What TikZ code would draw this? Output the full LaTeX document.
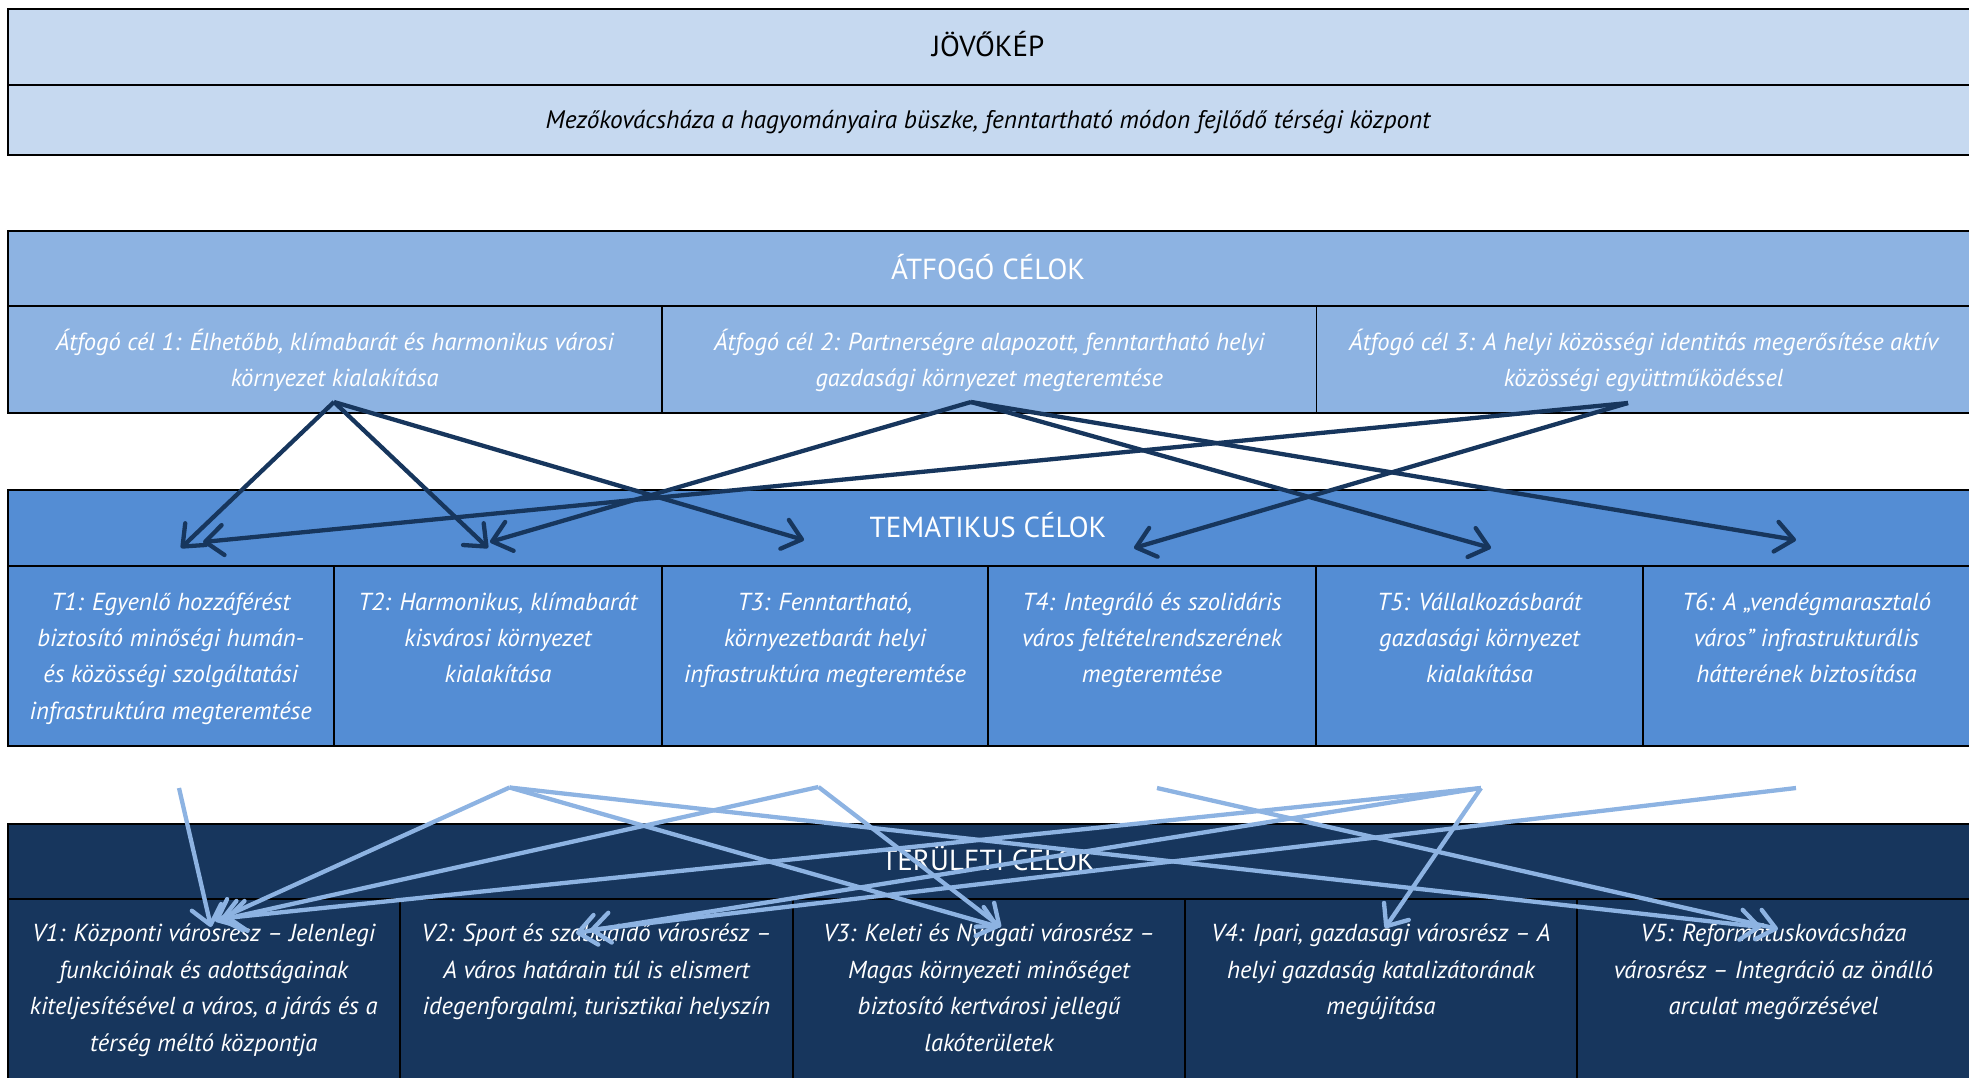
\documentclass[tikz,border=0pt]{standalone}
\usepackage{fontspec}
\setmainfont{PT Sans}
\usetikzlibrary{arrows.meta}
\definecolor{cJov}{HTML}{C6D9F0}
\definecolor{cAtf}{HTML}{8DB3E2}
\definecolor{cTem}{HTML}{548DD4}
\definecolor{cTer}{HTML}{17365D}
\definecolor{cDark}{HTML}{17365D}
\definecolor{cLight}{HTML}{8DB3E2}
\begin{document}
\begin{tikzpicture}[x=1pt,y=-1pt,
  frame/.style={draw=black,line width=2pt},
  divider/.style={draw=black,line width=1.5pt},
  headtext/.style={anchor=base,inner sep=0pt,font=\fontsize{29}{34}\selectfont},
  celltext/.style={anchor=north,inner sep=0pt,align=center,text=white,font=\fontsize{24.6}{36.4}\selectfont\itshape},
  darkarrow/.style={draw=cDark,line width=4.3pt,-{Straight Barb[length=18pt,width=30pt,round]}},
  lightarrow/.style={draw=cLight,line width=4.3pt,-{Straight Barb[length=18pt,width=30pt,round]}},
]
\clip (0,0) rectangle (1969,1077);
\useasboundingbox (0,0) rectangle (1969,1077);

% ---- Jovokep
\path[frame,fill=cJov] (7.5,9) rectangle (1980,155);
\draw[frame] (7.5,85) -- (1980,85);
\node[headtext] (jkTitle) at (988,56.5) {JÖVŐKÉP};
\node[anchor=base,inner sep=0pt,font=\fontsize{25.3}{30}\selectfont\itshape] (jkText) at (988,128.3)
  {Mezőkovácsháza a hagyományaira büszke, fenntartható módon fejlődő térségi központ};

% ---- Atfogo
\path[frame,fill=cAtf] (7.5,231) rectangle (1980,413);
\draw[frame] (7.5,306) -- (1980,306);
\draw[divider] (662,306) -- (662,413) (1316.5,306) -- (1316.5,413);
\node[headtext,text=white] (atTitle) at (988,279.3) {ÁTFOGÓ CÉLOK};
\node[celltext] (at1) at (334.75,324.5) {\strut Átfogó cél 1: Élhetőbb, klímabarát és harmonikus városi\\környezet kialakítása};
\node[celltext] (at2) at (989.25,324.5) {\strut Átfogó cél 2: Partnerségre alapozott, fenntartható helyi\\gazdasági környezet megteremtése};
\node[celltext] (at3) at (1643.75,324.5) {\strut Átfogó cél 3: A helyi közösségi identitás megerősítése aktív\\közösségi együttműködéssel};

% ---- Tematikus
\path[frame,fill=cTem] (7.5,490) rectangle (1980,746);
\draw[frame] (7.5,566) -- (1980,566);
\draw[divider] (334,566) -- (334,746) (662,566) -- (662,746) (988,566) -- (988,746)
  (1316,566) -- (1316,746) (1643,566) -- (1643,746);
\node[headtext,text=white] (tmTitle) at (988,537.3) {TEMATIKUS CÉLOK};
\node[celltext] (t1) at (170.75,584.5) {\strut T1: Egyenlő hozzáférést\\biztosító minőségi humán-\\és közösségi szolgáltatási\\infrastruktúra megteremtése};
\node[celltext] (t2) at (498,584.5) {\strut T2: Harmonikus, klímabarát\\kisvárosi környezet\\kialakítása};
\node[celltext] (t3) at (825,584.5) {\strut T3: Fenntartható,\\környezetbarát helyi\\infrastruktúra megteremtése};
\node[celltext] (t4) at (1152,584.5) {\strut T4: Integráló és szolidáris\\város feltételrendszerének\\megteremtése};
\node[celltext] (t5) at (1479.5,584.5) {\strut T5: Vállalkozásbarát\\gazdasági környezet\\kialakítása};
\node[celltext] (t6) at (1806.5,584.5) {\strut T6: A „vendégmarasztaló\\város” infrastrukturális\\hátterének biztosítása};

% ---- Teruleti
\path[frame,fill=cTer] (7.5,824) rectangle (1980,1095);
\draw[frame] (7.5,899) -- (1980,899);
\draw[divider] (400,899) -- (400,1095) (793,899) -- (793,1095) (1185,899) -- (1185,1095)
  (1577,899) -- (1577,1095);
\node[headtext,text=white] (trTitle) at (988,870) {TERÜLETI CÉLOK};
\node[celltext] (v1) at (203.75,916.2) {\strut V1: Központi városrész – Jelenlegi\\funkcióinak és adottságainak\\kiteljesítésével a város, a járás és a\\térség méltó központja};
\node[celltext] (v2) at (596.5,916.2) {\strut V2: Sport és szabadidő városrész –\\A város határain túl is elismert\\idegenforgalmi, turisztikai helyszín};
\node[celltext] (v3) at (989,916.2) {\strut V3: Keleti és Nyugati városrész –\\Magas környezeti minőséget\\biztosító kertvárosi jellegű\\lakóterületek};
\node[celltext] (v4) at (1381,916.2) {\strut V4: Ipari, gazdasági városrész – A\\helyi gazdaság katalizátorának\\megújítása};
\node[celltext] (v5) at (1773.5,916.2) {\strut V5: Reformátuskovácsháza\\városrész – Integráció az önálló\\arculat megőrzésével};

% ---- dark arrow end points
\coordinate (a1s) at (334,402);
\coordinate (a2s) at (971,402);
\coordinate (a3s) at (1628,403);
\coordinate (t1a) at (181,548);
\coordinate (t1b) at (203,542);
\coordinate (t2a) at (488,548);
\coordinate (t2b) at (490,542);
\coordinate (t3a) at (804,540);
\coordinate (t4a) at (1134,548);
\coordinate (t5a) at (1491,548);
\coordinate (t6a) at (1796,540);
\draw[darkarrow] (a1s) -- (t1a);
\draw[darkarrow] (a1s) -- (t2a);
\draw[darkarrow] (a1s) -- (t3a);
\draw[darkarrow] (a2s) -- (t2b);
\draw[darkarrow] (a2s) -- (t5a);
\draw[darkarrow] (a2s) -- (t6a);
\draw[darkarrow] (a3s) -- (t1b);
\draw[darkarrow] (a3s) -- (t4a);

% ---- light arrow end points
\coordinate (s1) at (179,788);
\coordinate (s2) at (509.5,787.5);
\coordinate (s3) at (818.5,787);
\coordinate (s4) at (1157,788);
\coordinate (s5) at (1481,788);
\coordinate (s6) at (1796,788);
\coordinate (v1a) at (211,927);
\coordinate (v1b) at (215,921);
\coordinate (v1c) at (220,920);
\coordinate (v1d) at (226,918);
\coordinate (v2a) at (576,933);
\coordinate (v2b) at (590,930);
\coordinate (v3a) at (999,927);
\coordinate (v3b) at (1001,927);
\coordinate (v4a) at (1385,928);
\coordinate (v5a) at (1761,927);
\coordinate (v5b) at (1778,929);
\draw[lightarrow] (s1) -- (v1a);
\draw[lightarrow] (s2) -- (v1b);
\draw[lightarrow] (s3) -- (v1c);
\draw[lightarrow] (s5) -- (v1d);
\draw[lightarrow] (s2) -- (v3a);
\draw[lightarrow] (s3) -- (v3b);
\draw[lightarrow] (s2) -- (v5a);
\draw[lightarrow] (s4) -- (v5b);
\draw[lightarrow] (s5) -- (v2a);
\draw[lightarrow] (s6) -- (v2b);
\draw[lightarrow] (s5) -- (v4a);
\end{tikzpicture}
\end{document}
